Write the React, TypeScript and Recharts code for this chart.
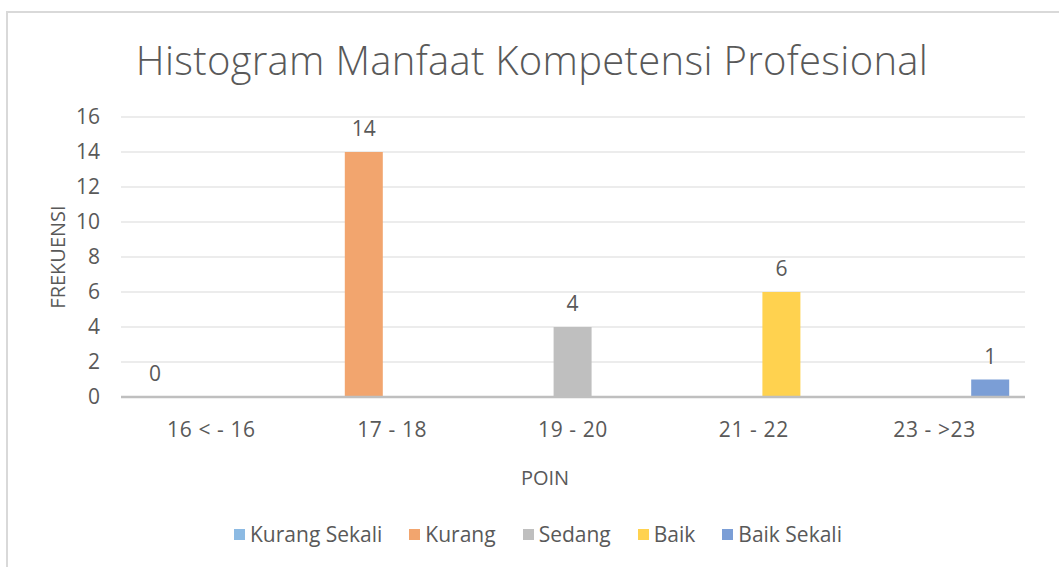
import { Bar, BarChart, CartesianGrid, LabelList, XAxis, YAxis } from "recharts";

const categories = ["16 < - 16", "17 - 18", "19 - 20", "21 - 22", "23 - >23"];
const kurangSekali = [0, null, null, null, null];
const kurang = [null, 14, null, null, null];
const sedang = [null, null, 4, null, null];
const baik = [null, null, null, 6, null];
const baikSekali = [null, null, null, null, 1];
const yTicks = [0, 2, 4, 6, 8, 10, 12, 14, 16];

const seriesList = [
  { key: "kurangSekali", name: "Kurang Sekali", color: "#8CBAE3" },
  { key: "kurang", name: "Kurang", color: "#F2A56E" },
  { key: "sedang", name: "Sedang", color: "#BFBFBF" },
  { key: "baik", name: "Baik", color: "#FFD24F" },
  { key: "baikSekali", name: "Baik Sekali", color: "#7B9ED6" },
];

const data = categories.map((name, i) => ({
  name,
  kurangSekali: kurangSekali[i],
  kurang: kurang[i],
  sedang: sedang[i],
  baik: baik[i],
  baikSekali: baikSekali[i],
}));

const FONT = "'Open Sans', sans-serif";
const TEXT = "#595959";

// label drawn by hand so a 0 still shows
const renderValue = (props: any) => {
  const { x, y, width, value } = props;
  if (value === null || value === undefined) return null;
  return (
    <text
      x={Number(x) + Number(width) / 2}
      y={Number(y) - 16}
      textAnchor="middle"
      fill={TEXT}
      fontSize={21}
      fontFamily={FONT}
    >
      {String(value)}
    </text>
  );
};

export default function App() {
  return (
    <div
      style={{
        position: "absolute",
        left: 0,
        top: 0,
        width: 1059,
        height: 567,
        overflow: "hidden",
        background: "#fff",
        fontFamily: FONT,
        color: TEXT,
      }}
    >
      <div
        style={{
          position: "absolute",
          left: 6,
          top: 11,
          width: 1100,
          height: 600,
          border: "2px solid #d9d9d9",
        }}
      />
      <div
        style={{
          position: "absolute",
          left: 0,
          width: 1064,
          top: 32,
          textAlign: "center",
          fontSize: 40,
          fontWeight: 300,
          lineHeight: "56px",
          letterSpacing: 0.3,
        }}
      >
        Histogram Manfaat Kompetensi Profesional
      </div>
      <div
        style={{
          position: "absolute",
          left: 57,
          top: 257,
          transform: "translate(-50%, -50%) rotate(-90deg)",
          fontSize: 20,
          whiteSpace: "nowrap",
        }}
      >
        FREKUENSI
      </div>
      <div
        style={{
          position: "absolute",
          left: 545,
          top: 477,
          transform: "translate(-50%, -50%)",
          fontSize: 20,
        }}
      >
        POIN
      </div>
      <BarChart
        width={1059}
        height={567}
        data={data}
        margin={{ top: 117, right: 34, bottom: 140, left: 61 }}
        barSize={38}
        barGap={-10}
        style={{ position: "absolute", left: 0, top: 0 }}
      >
        <CartesianGrid vertical={false} stroke="#e6e6e6" strokeWidth={1.5} />
        {seriesList.map((s) => (
          <Bar
            key={s.key}
            dataKey={s.key}
            name={s.name}
            fill={s.color}
            minPointSize={(v: any) => (v === 0 ? 0.5 : 0)}
            isAnimationActive={false}
          >
            <LabelList dataKey={s.key} content={renderValue} />
          </Bar>
        ))}
        <XAxis
          dataKey="name"
          height={30}
          tickLine={false}
          tickSize={0}
          tickMargin={25}
          axisLine={{ stroke: "#bfbfbf", strokeWidth: 2.5 }}
          tick={{ fill: TEXT, fontSize: 21, fontFamily: FONT, letterSpacing: 0.6 }}
        />
        <YAxis
          width={60}
          domain={[0, 16]}
          ticks={yTicks}
          interval={0}
          tickLine={false}
          tickSize={0}
          tickMargin={21}
          axisLine={false}
          tick={{ fill: TEXT, fontSize: 21, fontFamily: FONT }}
        />
      </BarChart>
      <div
        style={{
          position: "absolute",
          left: 0,
          width: 1076,
          top: 520,
          display: "flex",
          justifyContent: "center",
          gap: 27,
          fontSize: 21,
          lineHeight: "28px",
        }}
      >
        {seriesList.map((s) => (
          <div key={s.key} style={{ display: "flex", alignItems: "center", gap: 5 }}>
            <span style={{ width: 11, height: 11, background: s.color, display: "inline-block" }} />
            <span>{s.name}</span>
          </div>
        ))}
      </div>
    </div>
  );
}
